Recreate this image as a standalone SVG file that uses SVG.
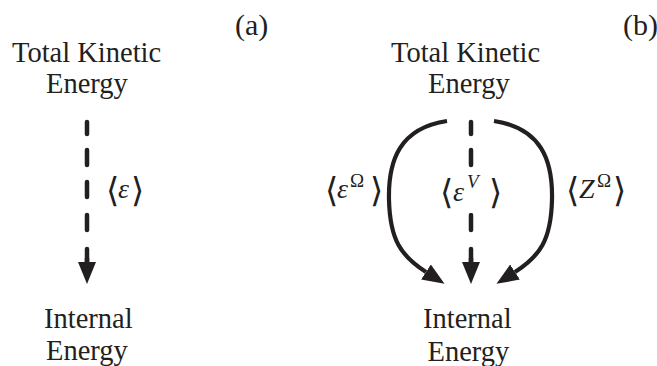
<svg xmlns="http://www.w3.org/2000/svg" width="657" height="366" viewBox="0 0 657 366">
<style>
.ink{fill:#231f20}
.dash{stroke:#231f20;stroke-width:4.5;stroke-linecap:round;fill:none}
.curve{stroke:#231f20;stroke-width:4.2;fill:none}
</style>
<defs>
<marker id="ah" markerUnits="userSpaceOnUse" markerWidth="24" markerHeight="20" refX="0" refY="9" orient="auto" viewBox="0 0 24 18">
<path d="M0,0 L22,9 L0,18 Z" fill="#231f20"/>
</marker>
</defs>
<rect width="657" height="366" fill="#fff"/>
<g id="tag-a" class="ink"><text x="235" y="35" font-size="30" font-family="'Liberation Serif'">(a)</text></g>
<g id="tag-b" class="ink"><text x="623" y="35" font-size="30" font-family="'Liberation Serif'">(b)</text></g>
<g id="a-tke" class="ink"><text x="12" y="62" font-size="28.5" font-family="'Liberation Serif'">Total Kinetic</text><text x="46" y="93" font-size="28.5" font-family="'Liberation Serif'">Energy</text></g>
<g id="a-ie" class="ink"><text x="44" y="328" font-size="28.5" font-family="'Liberation Serif'">Internal</text><text x="46" y="360" font-size="28.5" font-family="'Liberation Serif'">Energy</text></g>
<g id="b-tke" class="ink"><text x="391" y="62" font-size="28.5" font-family="'Liberation Serif'">Total Kinetic</text><text x="428" y="93" font-size="28.5" font-family="'Liberation Serif'">Energy</text></g>
<g id="b-ie" class="ink"><text x="423" y="328" font-size="28.5" font-family="'Liberation Serif'">Internal</text><text x="427.5" y="361" font-size="28.5" font-family="'Liberation Serif'">Energy</text></g>
<g id="connectors">
<path class="dash" d="M87,122V134 M87,150V165 M87,182V197 M87,215V230 M87,249V262"/>
<line x1="87" y1="258" x2="87" y2="262" stroke="#231f20" stroke-width="4.5" marker-end="url(#ah)"/>
<path class="dash" d="M471,122V134 M471,150V165 M471,182V197 M471,215V230 M471,249V262"/>
<line x1="471" y1="258" x2="471" y2="262" stroke="#231f20" stroke-width="4.5" marker-end="url(#ah)"/>
<path class="curve" d="M447,121 C400,128 388,160 389,200 C390,240 401,256 426,272" marker-end="url(#ah)"/>
<path class="curve" d="M494,121 C541,128 553,160 552,200 C551,240 540,256 515,272" marker-end="url(#ah)"/>
</g>
<g id="lab-eps" class="ink"><text x="106" y="202" font-size="34" font-family="'DejaVu Serif'">⟨</text><text x="118" y="198" font-size="28" font-style="italic" font-family="'Liberation Serif'">ε</text><text x="131" y="202" font-size="34" font-family="'DejaVu Serif'">⟩</text></g>
<g id="lab-epsV" class="ink"><rect x="439" y="169" width="64" height="44" fill="#fff"/><text x="440" y="204" font-size="34" font-family="'DejaVu Serif'">⟨</text><text x="453" y="201" font-size="28" font-style="italic" font-family="'Liberation Serif'">ε</text><text x="467" y="188" font-size="19" font-style="italic" font-family="'Liberation Serif'">V</text><text x="489" y="204" font-size="34" font-family="'DejaVu Serif'">⟩</text></g>
<g id="lab-epsO" class="ink"><text x="325" y="202" font-size="34" font-family="'DejaVu Serif'">⟨</text><text x="337" y="198" font-size="28" font-style="italic" font-family="'Liberation Serif'">ε</text><text x="350" y="187" font-size="19" font-family="'Liberation Serif'">Ω</text><text x="370" y="202" font-size="34" font-family="'DejaVu Serif'">⟩</text></g>
<g id="lab-ZO" class="ink"><text x="566" y="202" font-size="34" font-family="'DejaVu Serif'">⟨</text><text x="579" y="198" font-size="28" font-style="italic" font-family="'Liberation Serif'">Z</text><text x="597" y="187" font-size="19" font-family="'Liberation Serif'">Ω</text><text x="613" y="202" font-size="34" font-family="'DejaVu Serif'">⟩</text></g>
</svg>
